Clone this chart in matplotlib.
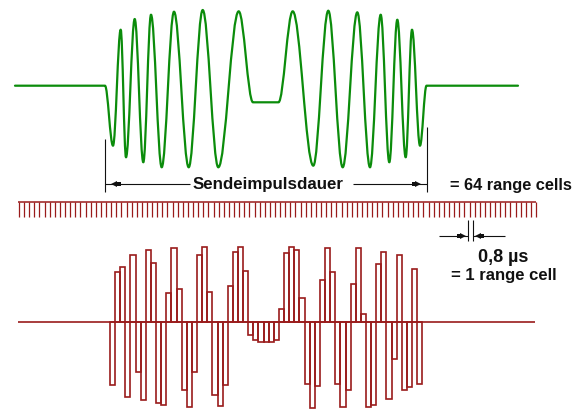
import numpy as np
import matplotlib
matplotlib.use("Agg")
import matplotlib.pyplot as plt
from matplotlib.path import Path
from matplotlib.patches import PathPatch

# ---- data ----
# green transmitted chirp: extrema (time position, level), figure pixel units
green_t = [15, 105, 113, 120.7, 126, 134.7, 143.3, 151, 161.7, 174, 188.7, 202.7,
           218.3, 238.7, 253, 278.5, 292.7, 313.3, 328.3, 342.7, 357.3, 370,
           380.7, 389.3, 397.3, 405.7, 412, 420, 426.5, 518]
green_level = [86.7, 86.7, 146.7, 30.7, 158.3, 20, 163.3, 15.7, 168.3, 12.7, 168.3, 11,
               168.3, 12.3, 103.3, 103.3, 12.3, 166.7, 11.7, 168.3, 13.3, 168.3,
               15.7, 163.3, 20.7, 158.3, 30.7, 146.7, 86.7, 86.7]

# red sampled signal: one value per range cell (amplitude above zero line, px)
cell_values = [-63, 50, 55, -75, 67, -50, -78, 72, 59, -81, -83, 29, 74, 33, -68,
               -85, -50, 67, 75, 30, -73, -84, -63, 36, 70, 75, 51, -13, -18, -20,
               -20, -20, -18, 13, 69, 75, 72, 24, -62, -86, -64, 42, 74, 50, -62,
               -85, -68, 38, 74, 8, -85, -83, 58, 70, -77, -37, 67, -68, -65, 53, -62]

label_pulse = "Sendeimpulsdauer"
label_cells = "= 64 range cells"
label_time = "0,8 µs"
label_cell = "= 1 range cell"
n_ruler = 102

# ---- style ----
GREEN = "#0b8c0b"
RED = "#9a1b1b"
INK = "#111111"
FONT = "Liberation Sans"

W, H = 585, 410
fig = plt.figure(figsize=(W / 100, H / 100), dpi=100)
ax = fig.add_axes([0, 0, 1, 1])
ax.set_xlim(0, W)
ax.set_ylim(H, 0)
ax.axis("off")

# green chirp drawn as smooth bezier segments between extrema
verts = [(green_t[0], green_level[0])]
codes = [Path.MOVETO]
a = 0.36
for i in range(len(green_t) - 1):
    x0, y0 = green_t[i], green_level[i]
    x1, y1 = green_t[i + 1], green_level[i + 1]
    dx = x1 - x0
    verts += [(x0 + a * dx, y0), (x1 - a * dx, y1), (x1, y1)]
    codes += [Path.CURVE4] * 3
ax.add_patch(PathPatch(Path(verts, codes), facecolor="none", edgecolor=GREEN,
                       lw=1.6, capstyle="round", joinstyle="round"))

# sampled signal bars
x0 = 110.0
cell_w = (422.3 - x0) / len(cell_values)
base = 322.7
lefts = x0 + cell_w * np.arange(len(cell_values))
ax.bar(lefts, -np.array(cell_values, dtype=float), width=cell_w, bottom=base,
       align="edge", fill=False, edgecolor=RED, lw=1.2)
ax.hlines(base, 18, 535, color=RED, lw=1.2)

# range cell ruler
rx = 19 + cell_w * np.arange(n_ruler)
ax.hlines(203.3, 18, rx[-1], color=RED, lw=1.1)
ax.vlines(rx, 203.3, 217.7, color=RED, lw=0.9)


def arrowhead(x_tip, y, direction):
    # direction +1 -> points right, -1 -> points left
    ax.plot([x_tip - direction * 3.5], [y], marker=">" if direction > 0 else "<",
            color=INK, ms=4.5, mew=0)
    ax.plot([x_tip - direction * 8], [y], marker="s", color=INK, ms=3.2, mew=0)


# pulse length dimension
ax.vlines(105.3, 140, 192.7, color=INK, lw=0.8)
ax.vlines(426.7, 128, 192.7, color=INK, lw=0.8)
ax.hlines(185, 105.3, 190, color=INK, lw=0.8)
ax.hlines(185, 353, 426.7, color=INK, lw=0.8)
arrowhead(110.5, 185, -1)
arrowhead(421.5, 185, 1)
ax.text(193, 189.5, label_pulse, fontsize=12.2, fontweight="bold", family=FONT,
        color=INK, ha="left", va="baseline")
ax.text(450, 190, label_cells, fontsize=11.8, fontweight="bold", family=FONT,
        color=INK, ha="left", va="baseline")

# one range cell dimension
ax.vlines([467.7, 472.7], 220.7, 241.7, color=INK, lw=0.8)
ax.hlines(236.7, 439.3, 467.7, color=INK, lw=0.8)
ax.hlines(236.7, 472.7, 505, color=INK, lw=0.8)
arrowhead(466.5, 236.7, 1)
arrowhead(474, 236.7, -1)
ax.text(503.5, 262.3, label_time, fontsize=13, fontweight="bold", family=FONT,
        color=INK, ha="center", va="baseline")
ax.text(504, 280, label_cell, fontsize=12, fontweight="bold", family=FONT,
        color=INK, ha="center", va="baseline")

fig.savefig("out.png", dpi=100)
